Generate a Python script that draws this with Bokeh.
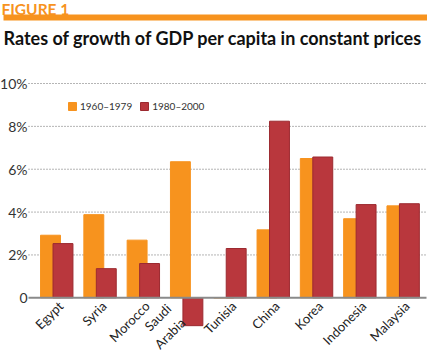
from bokeh.plotting import figure
from bokeh.models import (Range1d, ColumnDataSource, Legend, LegendItem, Label, BoxAnnotation)
from bokeh.transform import dodge
from bokeh.core.properties import value
from bokeh.embed import file_html
from bokeh.resources import INLINE
import math

countries = ["Egypt", "Syria", "Morocco", "Saudi\nArabia", "Tunisia", "China", "Korea", "Indonesia", "Malaysia"]
growth_1960_1979 = [2.92, 3.88, 2.69, 6.35, 0.0, 3.17, 6.50, 3.69, 4.29]
growth_1980_2000 = [2.53, 1.36, 1.60, -1.30, 2.30, 8.24, 6.57, 4.35, 4.39]
series_names = ["1960\u20131979", "1980\u20132000"]
y_ticks = [0, 2, 4, 6, 8, 10]
y_tick_labels = ["0", "2%", "4%", "6%", "8%", "10%"]
title_text = "Rates of growth of GDP per capita in constant prices"
figure_label = "FIGURE 1"

ORANGE = "#F7931E"
RED = "#B9373D"
RED_EDGE = "#9C2A30"
FONT = "Lato"

W, H = 427, 354
PX = 43.3      # pixels per category
PY = 21.43     # pixels per percentage point
X0 = -56.25 / PX           # data x at canvas left edge
X1 = X0 + W / PX           # data x at canvas right edge
Y1 = 10 + 83 / PY          # data y at canvas top edge
Y0 = Y1 - H / PY           # data y at canvas bottom edge
XA = X0 + 28 / PX          # left end of the value grid

p = figure(width=W, height=H, output_backend="svg", toolbar_location=None,
           x_range=Range1d(X0, X1), y_range=Range1d(Y0, Y1),
           min_border=0, x_axis_location=None, y_axis_location=None)
p.outline_line_color = None
p.grid.grid_line_color = None

# value grid and labels
grid_y = [t for t in y_ticks if t != 0]
p.segment(x0=XA, x1=X1, y0=grid_y, y1=grid_y, line_color="#6a6a6a",
          line_dash="1 2", line_width=1)
p.text(x=XA - 1 / PX, y=y_ticks, text=y_tick_labels, text_align="right",
       text_baseline="middle", text_font=value(FONT), text_font_size="14px",
       text_color="#333333")

# bars
n_lines = [c.count("\n") + 1 for c in countries]
src = ColumnDataSource(dict(
    idx=list(range(len(countries))),
    name=countries,
    a=growth_1960_1979,
    b=growth_1980_2000,
    lx=[i + 0.09 - 0.344 * (n - 1) for i, n in enumerate(n_lines)],
    ly=[-0.27 - 0.46 * (n - 1) for n in n_lines],
))
r1 = p.vbar(x=dodge("idx", -0.144, range=p.x_range), top="a", bottom=0, width=0.46,
            source=src, fill_color=ORANGE, line_color=ORANGE, line_width=1)
r2 = p.vbar(x=dodge("idx", 0.144, range=p.x_range), top="b", bottom=0, width=0.46,
            source=src, fill_color=RED, line_color=RED_EDGE, line_width=1)

# zero line
p.segment(x0=XA, x1=X1 - 1 / PX, y0=0, y1=0, line_color="#8a8a8a", line_width=2)

# category labels
p.text(x="lx", y="ly", text="name", source=src,
       angle=math.pi / 4, text_align="right", text_baseline="middle",
       text_font=value(FONT), text_font_size="13px", text_color="#222222",
       text_line_height=1.25)

legend = Legend(items=[LegendItem(label=series_names[0], renderers=[r1]),
                       LegendItem(label=series_names[1], renderers=[r2])],
                orientation="horizontal", location=(67, H - 112),
                glyph_width=10, glyph_height=10, label_height=10, label_standoff=3,
                spacing=7, padding=0, margin=0, border_line_color=None,
                background_fill_alpha=0,
                label_text_font=FONT, label_text_font_size="10px", label_text_color="#333333")
p.add_layout(legend, "center")

# header
p.add_layout(BoxAnnotation(left=3, right=W, top=H - 14, bottom=H - 20,
                           left_units="screen", right_units="screen",
                           top_units="screen", bottom_units="screen",
                           fill_color=ORANGE, fill_alpha=1, line_color=None))
p.add_layout(Label(x=1, y=H - 8, x_units="screen", y_units="screen",
                   text=figure_label, text_font=FONT, text_font_style="bold",
                   text_font_size="15.5px", text_color=ORANGE, text_baseline="alphabetic"))
p.add_layout(Label(x=3, y=H - 37.5, x_units="screen", y_units="screen",
                   text=title_text, text_font=FONT, text_font_style="bold",
                   text_font_size="18px", text_color="#111111", text_baseline="alphabetic"))

open("out.html", "w").write(file_html(p, INLINE))
